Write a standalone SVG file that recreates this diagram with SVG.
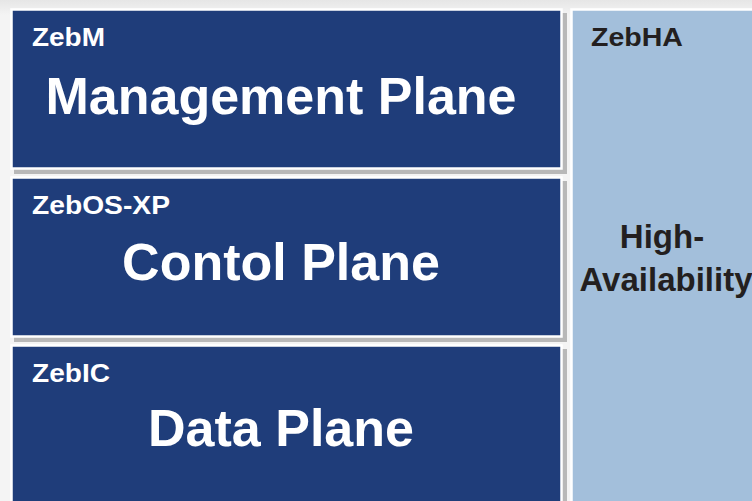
<svg xmlns="http://www.w3.org/2000/svg" width="752" height="501" viewBox="0 0 752 501">
  <defs>
    <linearGradient id="bg" x1="0" y1="0" x2="0" y2="1">
      <stop offset="0" stop-color="#e6e6e6"/>
      <stop offset="0.03" stop-color="#f4f4f4"/>
      <stop offset="1" stop-color="#f4f4f4"/>
    </linearGradient>
  </defs>
  <style>
    .shadow { fill: #b8b8b8; }
    .plane { fill: #1f3d7a; stroke: #ffffff; stroke-width: 2.5; }
    .ha { fill: #a3bfdb; stroke: #ffffff; stroke-width: 2.5; }
    .small { font-family: "Liberation Sans", Arial, sans-serif; font-weight: bold; font-size: 25px; fill: #ffffff; }
    .big { font-family: "Liberation Sans", Arial, sans-serif; font-weight: bold; font-size: 52px; fill: #ffffff; text-anchor: middle; }
    .hasmall { font-family: "Liberation Sans", Arial, sans-serif; font-weight: bold; font-size: 25px; fill: #231f20; }
    .habig { font-family: "Liberation Sans", Arial, sans-serif; font-weight: bold; font-size: 33px; fill: #231f20; text-anchor: middle; }
  </style>
  <rect x="0" y="0" width="752" height="501" fill="url(#bg)"/>

  <g id="zebm">
    <rect class="shadow" x="14" y="13" width="553" height="161"/>
    <rect class="plane" x="11.5" y="9.5" width="550" height="159"/>
    <text class="small" x="32" y="46" textLength="73" lengthAdjust="spacingAndGlyphs">ZebM</text>
    <text class="big" x="281" y="114">Management Plane</text>
  </g>

  <g id="zebos">
    <rect class="shadow" x="14" y="181" width="553" height="161"/>
    <rect class="plane" x="11.5" y="177.5" width="550" height="159"/>
    <text class="small" x="32" y="214" textLength="138" lengthAdjust="spacingAndGlyphs">ZebOS-XP</text>
    <text class="big" x="281" y="280">Contol Plane</text>
  </g>

  <g id="zebic">
    <rect class="shadow" x="14" y="349" width="553" height="170"/>
    <rect class="plane" x="11.5" y="345.5" width="550" height="170"/>
    <text class="small" x="32" y="382" textLength="78" lengthAdjust="spacingAndGlyphs">ZebIC</text>
    <text class="big" x="281" y="446">Data Plane</text>
  </g>

  <g id="zebha">
    <rect class="ha" x="571.5" y="9.5" width="200" height="510"/>
    <text class="hasmall" x="591" y="46" textLength="92" lengthAdjust="spacingAndGlyphs">ZebHA</text>
    <text class="habig" x="662" y="248">High-</text>
    <text class="habig" x="666" y="291">Availability</text>
  </g>

  <g id="connectors"/>
</svg>
